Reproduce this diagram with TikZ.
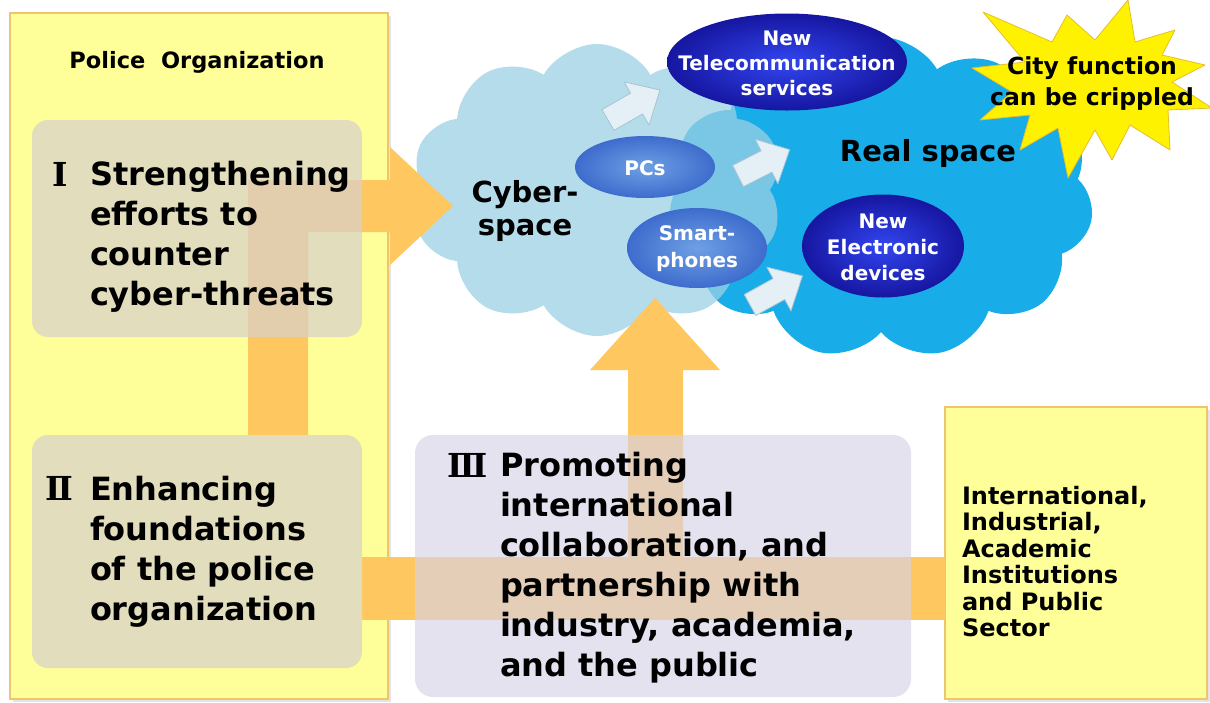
\documentclass[tikz,border=0pt]{standalone}
\usepackage{fontspec}
\setmainfont{DejaVu Sans}
\newfontfamily\numfont{DejaVu Serif}
\usetikzlibrary{shapes.symbols,shapes.geometric}
\definecolor{ybox}{RGB}{255,255,153}
\definecolor{yborder}{RGB}{238,196,110}
\definecolor{beige}{RGB}{214,208,205}
\definecolor{lav}{RGB}{215,210,232}
\definecolor{orng}{RGB}{255,199,95}
\definecolor{realblue}{RGB}{24,172,232}
\definecolor{cyberblue}{RGB}{155,208,228}
\definecolor{telin}{RGB}{50,70,240}
\definecolor{telout}{RGB}{22,22,160}
\definecolor{pcin}{RGB}{110,160,228}
\definecolor{pcout}{RGB}{62,108,205}
\definecolor{starfill}{RGB}{255,242,0}
\definecolor{starline}{RGB}{230,190,40}
\definecolor{smfill}{RGB}{228,240,246}
\definecolor{smline}{RGB}{170,195,210}
\begin{document}
\begin{tikzpicture}[x=1pt,y=-1pt,
  every node/.style={inner sep=0pt,outer sep=0pt},
  yellowbox/.style={draw=yborder,line width=1.6pt,fill=ybox},
  shadowbox/.style={fill=black!30,fill opacity=0.35},
  softbox/.style={rounded corners=16pt,fill=beige,fill opacity=0.7},
  lavbox/.style={rounded corners=18pt,fill=lav,fill opacity=0.65},
  bigtxt/.style={font=\bfseries\fontsize{32}{40}\selectfont,align=left,anchor=north west,text=black},
  numtxt/.style={font=\numfont\bfseries\fontsize{33}{36}\selectfont,anchor=base west},
  midtxt/.style={font=\bfseries\fontsize{24}{26.5}\selectfont,align=left,anchor=north west},
  elltxt/.style={font=\bfseries\fontsize{20}{25}\selectfont,align=center,text=white},
  cloudtxt/.style={font=\bfseries\fontsize{29}{33}\selectfont,align=center},
  orange/.style={fill=orng},
  smarrow/.style={fill=smfill,draw=smline,line width=0.8pt,line join=round}
]
\useasboundingbox (0,0) rectangle (1210,702);

% yellow frames with soft shadow
\node[shadowbox,minimum width=378pt,minimum height=686pt] (policeshadow) at (201.5,358.5) {};
\node[yellowbox,minimum width=378pt,minimum height=686pt] (police) at (199,356) {};
\node[shadowbox,minimum width=262pt,minimum height=292pt] (partnershadow) at (1078.5,555.5) {};
\node[yellowbox,minimum width=262pt,minimum height=292pt] (partners) at (1076,553) {};

% clouds
\node[cloud,cloud puffs=11,cloud puff arc=120,cloud ignores aspect,
      minimum width=425pt,minimum height=322pt,fill=realblue] (real) at (881,198) {};
\node[cloud,cloud puffs=10,cloud puff arc=120,cloud ignores aspect,
      minimum width=372pt,minimum height=292pt,fill=cyberblue,fill opacity=0.75] (cyber) at (597,190) {};

% star
\filldraw[fill=starfill,draw=starline,line width=0.8pt,line join=round]
  (1128,0) -- (1135,42) -- (1175,30) -- (1162,55) -- (1205,65) -- (1172,82)
  -- (1212,108) -- (1168,110) -- (1170,150) -- (1130,125) -- (1112,160)
  -- (1095,130) -- (1068,178) -- (1058,128) -- (1020,150) -- (1030,115)
  -- (980,120) -- (1012,92) -- (972,68) -- (1025,62) -- (983,12)
  -- (1052,42) -- (1067,15) -- (1095,40) -- cycle;
\node[font=\bfseries\fontsize{23.5}{31}\selectfont,align=center] (city) at (1092,84) {City function\\can be crippled};

% ellipses
\node[ellipse,minimum width=240pt,minimum height=97pt,inner color=telin,outer color=telout] (tel) at (787,62) {};
\node[elltxt] (teltxt) at (787,63) {New\\Telecommunication\\services};
\node[ellipse,minimum width=140pt,minimum height=62pt,inner color=pcin,outer color=pcout] (pcs) at (645,167) {};
\node[elltxt] (pcstxt) at (645,168) {PCs};
\node[ellipse,minimum width=140pt,minimum height=80pt,inner color=pcin,outer color=pcout] (smart) at (697,248) {};
\node[elltxt,font=\bfseries\fontsize{20}{27}\selectfont] (smarttxt) at (697,249) {Smart-\\phones};
\node[ellipse,minimum width=162pt,minimum height=103pt,inner color=telin,outer color=telout] (elec) at (883,246) {};
\node[elltxt,font=\bfseries\fontsize{20}{26}\selectfont] (electxt) at (883,247) {New\\Electronic\\devices};

% small block arrows
\draw[smarrow,shift={(608,120)},rotate=30]
  (0,-12) -- (33,-12) -- (33,-25) -- (60,0) -- (33,25) -- (33,12) -- (0,12) -- cycle;
\draw[smarrow,shift={(738,176)},rotate=27]
  (0,-12) -- (32,-12) -- (32,-25) -- (58,0) -- (32,25) -- (32,12) -- (0,12) -- cycle;
\draw[smarrow,shift={(750,305)},rotate=29]
  (0,-12) -- (33,-12) -- (33,-25) -- (60,0) -- (33,25) -- (33,12) -- (0,12) -- cycle;

% cloud labels
\node[cloudtxt] (cybertxt) at (525,211) {Cyber-\\space};
\node[cloudtxt] (realtxt) at (928,153) {Real space};

% big orange arrows
\fill[orange] (248,435) -- (248,180) -- (390,180) -- (390,147) -- (453,206)
  -- (390,265) -- (390,232) -- (308,232) -- (308,435) -- cycle;
\fill[orange] (362,557) rectangle (945,620);
\fill[orange] (628,590) -- (628,370) -- (590,370) -- (655,298) -- (720,370)
  -- (683,370) -- (683,590) -- cycle;

% inner boxes
\node[softbox,minimum width=330pt,minimum height=217pt] (box1) at (197,228.5) {};
\node[softbox,fill opacity=1,fill=beige!70!ybox,minimum width=330pt,minimum height=233pt] (box2) at (197,551.5) {};
\node[lavbox,minimum width=496pt,minimum height=262pt] (box3) at (663,566) {};

% texts
\node[font=\bfseries\fontsize{22.5}{26}\selectfont] (policetxt) at (197,62) {Police\ \ Organization};
\node[numtxt] (n1) at (52,186) {Ⅰ};
\node[bigtxt] (t1) at (90,161) {Strengthening\\efforts to\\counter\\cyber-threats};
\node[numtxt] (n2) at (45,500) {Ⅱ};
\node[bigtxt] (t2) at (90,476) {Enhancing\\foundations\\of the police\\organization};
\node[numtxt] (n3) at (447,477) {Ⅲ};
\node[bigtxt] (t3) at (500,452) {Promoting\\international\\collaboration, and\\partnership with\\industry, academia,\\and the public};
\node[midtxt] (t4) at (962,486) {International,\\Industrial,\\Academic\\Institutions\\and Public\\Sector};
\end{tikzpicture}
\end{document}
